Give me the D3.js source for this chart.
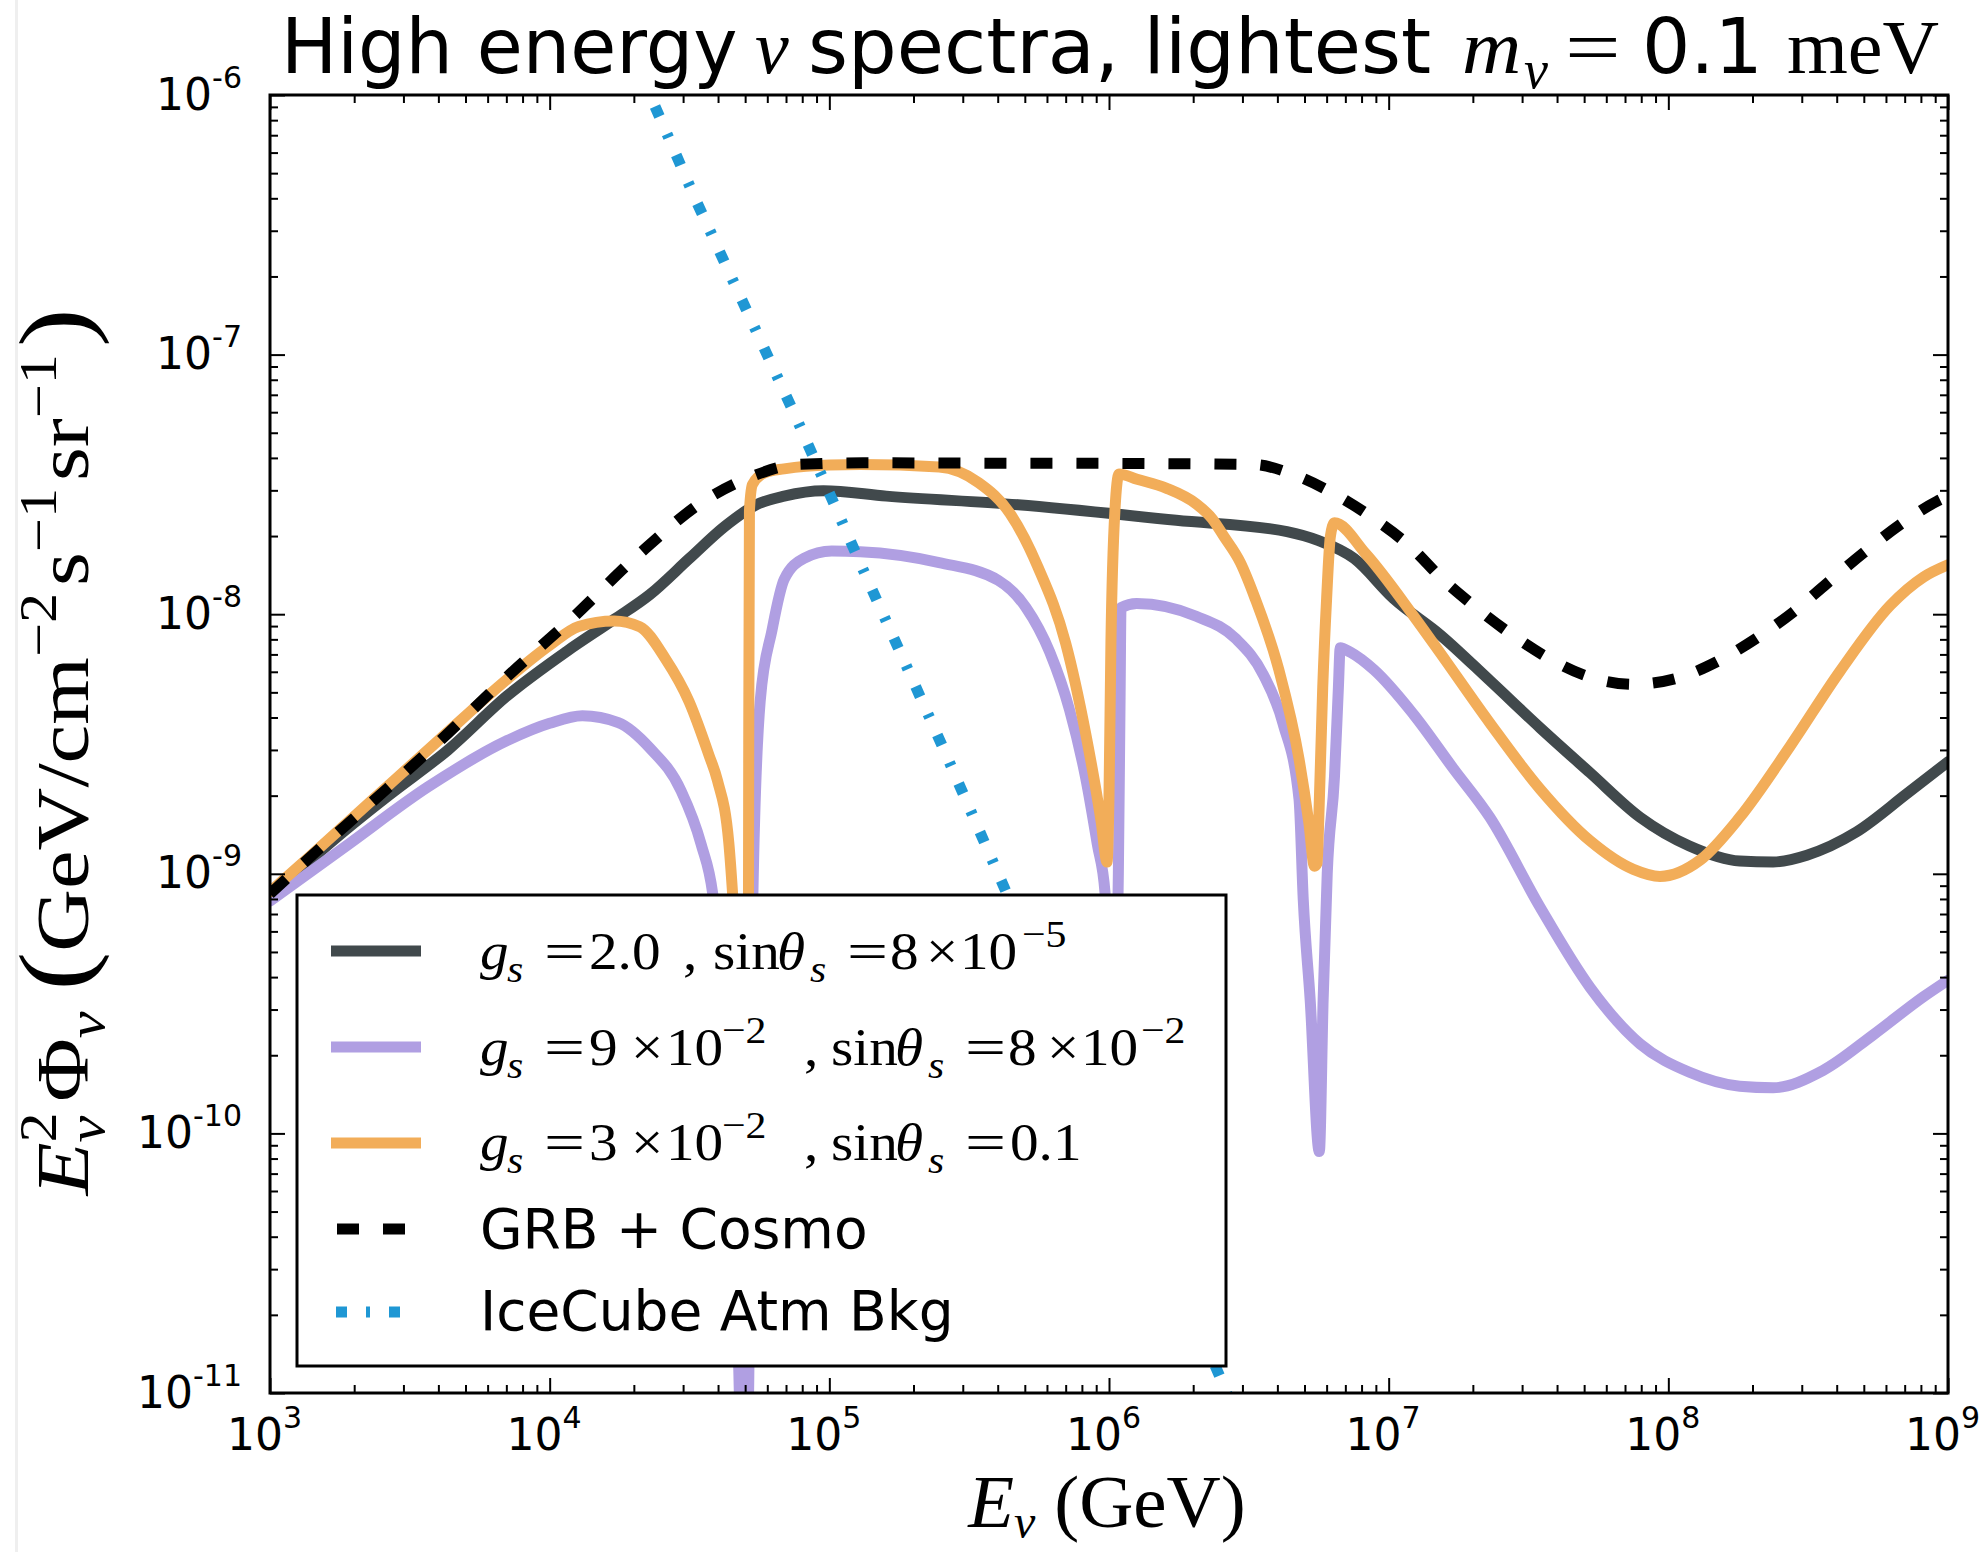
<!DOCTYPE html>
<html><head><meta charset="utf-8">
<script src="https://cdn.jsdelivr.net/npm/d3@7"></script>
<style>body{margin:0;background:#fff;} svg{display:block}</style>
</head><body>
<svg id="chart" width="1988" height="1552"></svg>
<script>
// ---------------- data ----------------
const xTickExps = [3, 4, 5, 6, 7, 8, 9];
const yTickExps = [-11, -10, -9, -8, -7, -6];

const legendLabels = ["g_s=2.0, sinθ_s=8×10^-5", "g_s=9×10^-2, sinθ_s=8×10^-2", "g_s=3×10^-2, sinθ_s=0.1", "GRB + Cosmo", "IceCube Atm Bkg"];

// [E (GeV), E^2 Phi (GeV cm^-2 s^-1 sr^-1)]
const seriesGs2 = [
  [1e3, 7.94e-10], [1.53e3, 1.23e-9], [2.65e3, 2.0e-9], [4.33e3, 3.0e-9], [7.05e3, 4.85e-9],
  [1.15e4, 7.19e-9], [1.70e4, 9.55e-9], [2.28e4, 1.19e-8], [3.16e4, 1.64e-8], [4.23e4, 2.18e-8],
  [5.48e4, 2.64e-8], [6.89e4, 2.85e-8], [9.53e4, 2.99e-8], [1.60e5, 2.85e-8], [4.73e5, 2.64e-8],
  [1.74e6, 2.30e-8], [4.33e6, 2.08e-8], [5.62e6, 1.92e-8], [7.52e6, 1.64e-8], [1.04e7, 1.15e-8],
  [1.53e7, 8.32e-9], [2.30e7, 5.55e-9], [3.48e7, 3.65e-9], [5.25e7, 2.45e-9], [7.93e7, 1.65e-9],
  [1.19e8, 1.28e-9], [1.80e8, 1.12e-9], [2.37e8, 1.11e-9], [3.13e8, 1.18e-9], [4.71e8, 1.45e-9],
  [7.11e8, 2.03e-9], [1e9, 2.70e-9]
];
const seriesGs9 = [
  [1e3, 7.85e-10], [1.91e3, 1.30e-9], [3.67e3, 2.16e-9], [7.05e3, 3.26e-9], [1e4, 3.80e-9],
  [1.31e4, 4.06e-9], [1.76e4, 3.82e-9], [2.28e4, 3.05e-9], [2.95e4, 2.09e-9], [3.48e4, 1.30e-9],
  [3.83e4, 8.36e-10], [4.17e4, 3.16e-10], [4.57e4, 6.31e-11], [4.90e4, 5e-12], [5.07e4, 5e-12],
  [5.25e4, 1e-10], [5.33e4, 8.36e-10], [5.66e4, 4.63e-9], [6.24e4, 8.69e-9], [6.89e4, 1.36e-8],
  [8.11e4, 1.64e-8], [1.02e5, 1.75e-8], [1.29e5, 1.74e-8], [2.47e5, 1.58e-8], [4.02e5, 1.35e-8],
  [5.05e5, 1.06e-8], [6.14e5, 7.14e-9], [7.23e5, 4.27e-9], [8.24e5, 2.36e-9], [9.08e5, 1.30e-9],
  [9.68e5, 8.43e-10], [1.00e6, 1.6e-10], [1.03e6, 1.6e-10], [1.08e6, 1.0e-9], [1.096e6, 5.0e-9],
  [1.104e6, 1.06e-8], [1.256e6, 1.10e-8], [2.05e6, 9.82e-9], [2.84e6, 8.05e-9], [3.56e6, 5.86e-9],
  [4.19e6, 3.79e-9], [4.78e6, 1.94e-9], [4.95e6, 7.94e-10], [5.24e6, 3.27e-10], [5.65e6, 8.51e-11],
  [5.83e6, 3.27e-10], [6.03e6, 1.0e-9], [6.40e6, 2.36e-9], [6.61e6, 5.21e-9], [6.71e6, 7.43e-9],
  [7.29e6, 7.14e-9], [8.87e6, 6.10e-9], [1.23e7, 4.10e-9], [1.70e7, 2.55e-9], [2.30e7, 1.65e-9],
  [3.48e7, 7.43e-10], [5.25e7, 3.65e-10], [7.93e7, 2.21e-10], [1.19e8, 1.72e-10], [1.80e8, 1.52e-10],
  [2.37e8, 1.50e-10], [3.58e8, 1.75e-10], [5.41e8, 2.40e-10], [8.17e8, 3.36e-10], [1e9, 3.89e-10]
];
const seriesGs3 = [
  [1e3, 8.51e-10], [1.38e3, 1.16e-9], [2.33e3, 1.93e-9], [4.06e3, 3.31e-9], [7.05e3, 5.62e-9],
  [1e4, 7.59e-9], [1.27e4, 8.97e-9], [1.70e4, 9.42e-9], [2.10e4, 8.95e-9], [2.59e4, 6.75e-9],
  [3.15e4, 4.61e-9], [3.71e4, 2.87e-9], [3.98e4, 2.29e-9], [4.37e4, 1.32e-9], [4.51e4, 8.36e-10],
  [4.79e4, 2.5e-10], [5.01e4, 8e-11], [5.13e4, 3.16e-10], [5.15e4, 3.16e-9], [5.18e4, 2.51e-8],
  [5.31e4, 3.16e-8], [5.89e4, 3.51e-8], [6.89e4, 3.63e-8], [1e5, 3.76e-8], [1.29e5, 3.77e-8],
  [2.47e5, 3.69e-8], [3.42e5, 3.21e-8], [4.43e5, 2.44e-8], [5.57e5, 1.52e-8], [7.00e5, 7.73e-9],
  [8.24e5, 3.50e-9], [9.38e5, 1.58e-9], [9.84e5, 1.11e-9], [1.000e6, 2.0e-9], [1.016e6, 7.76e-9],
  [1.050e6, 2.51e-8], [1.086e6, 3.47e-8], [1.26e6, 3.31e-8], [1.60e6, 3.06e-8], [2.05e6, 2.66e-8],
  [2.34e6, 2.33e-8], [2.57e6, 2.00e-8], [2.95e6, 1.58e-8], [3.33e6, 1.15e-8], [4.05e6, 6.10e-9],
  [4.78e6, 2.77e-9], [5.18e6, 1.58e-9], [5.43e6, 1.07e-9], [5.55e6, 1.10e-9], [5.62e6, 1.58e-9],
  [5.81e6, 5.21e-9], [6.00e6, 1.15e-8], [6.19e6, 2.0e-8], [6.40e6, 2.25e-8], [8.28e6, 1.71e-8],
  [1.23e7, 9.82e-9], [1.53e7, 7.08e-9], [2.30e7, 3.81e-9], [3.48e7, 2.12e-9], [5.25e7, 1.34e-9],
  [7.50e7, 1.04e-9], [9.33e7, 9.77e-10], [1.30e8, 1.13e-9], [1.80e8, 1.65e-9], [2.72e8, 3.09e-9],
  [4.11e8, 6.03e-9], [6.21e8, 1.08e-8], [8.17e8, 1.39e-8], [1e9, 1.55e-8]
];
const seriesGrb = [
  [1e3, 8.36e-10], [1.38e3, 1.15e-9], [2.33e3, 1.90e-9], [4.06e3, 3.26e-9], [7.05e3, 5.75e-9],
  [1.23e4, 9.86e-9], [2.07e4, 1.69e-8], [3.71e4, 2.81e-8], [5.31e4, 3.40e-8], [7.59e4, 3.77e-8],
  [1.32e5, 3.83e-8], [3.16e5, 3.82e-8], [1e6, 3.81e-8], [3.31e6, 3.77e-8], [4.47e6, 3.48e-8],
  [6.17e6, 2.97e-8], [8.57e6, 2.39e-8], [1.23e7, 1.77e-8], [1.53e7, 1.39e-8], [2.01e7, 1.08e-8],
  [2.72e7, 8.43e-9], [3.67e7, 6.84e-9], [5.11e7, 5.78e-9], [7.50e7, 5.37e-9], [1.07e8, 5.66e-9],
  [1.49e8, 6.56e-9], [2.07e8, 8.09e-9], [2.80e8, 1.02e-8], [3.68e8, 1.31e-8], [4.98e8, 1.72e-8],
  [6.73e8, 2.21e-8], [9.12e8, 2.72e-8], [1e9, 2.85e-8]
];
const seriesIceCube = [
  [2.0e4, 1.39e-6], [3.33e4, 3.94e-7], [7.59e4, 5.75e-8], [1.28e5, 1.60e-8], [2.54e5, 3.09e-9],
  [5.62e5, 4.37e-10], [1.26e6, 6.31e-11], [2.57e6, 1.07e-11], [3.0e6, 7.0e-12]
];

// ---------------- layout ----------------
const SANS = "'DejaVu Sans', Verdana, sans-serif";
const SERIF = "'Liberation Serif', 'Times New Roman', serif";
const C_GRAY = "#41494c", C_PURPLE = "#b09fe2", C_ORANGE = "#f2ad59", C_BLUE = "#1f97d4";
const L = 270, R = 1948, T = 95, B = 1393;

const svg = d3.select('#chart');
svg.append('rect').attr('width', 1988).attr('height', 1552).attr('fill', '#fff');
svg.append('rect').attr('x', 15).attr('y', 0).attr('width', 3).attr('height', 1552).attr('fill', '#efefef');

const x = d3.scaleLog().domain([1e3, 1e9]).range([L, R]);
const y = d3.scaleLog().domain([1e-11, 1e-6]).range([B, T]);

svg.append('clipPath').attr('id', 'plotclip').append('rect')
  .attr('x', L).attr('y', T).attr('width', R - L).attr('height', B - T);

const line = d3.line().x(d => x(d[0])).y(d => y(d[1])).curve(d3.curveMonotoneX);
const lineLin = d3.line().x(d => x(d[0])).y(d => y(d[1]));

const gPlot = svg.append('g').attr('clip-path', 'url(#plotclip)');
function drawSolid(data, color) {
  gPlot.append('path').attr('d', line(data)).attr('fill', 'none').attr('stroke', color)
    .attr('stroke-width', 11).attr('stroke-linejoin', 'round').attr('stroke-linecap', 'round');
}
drawSolid(seriesGs2, C_GRAY);
drawSolid(seriesGs9, C_PURPLE);
drawSolid(seriesGs3, C_ORANGE);
gPlot.append('path').attr('d', line(seriesGrb)).attr('fill', 'none').attr('stroke', '#000')
  .attr('stroke-width', 11).attr('stroke-dasharray', '22,24').attr('stroke-linecap', 'butt');
gPlot.append('path').attr('d', lineLin(seriesIceCube)).attr('fill', 'none').attr('stroke', C_BLUE)
  .attr('stroke-width', 11).attr('stroke-dasharray', '11,19,4,19').attr('stroke-linecap', 'butt');

// ---------------- axes ----------------
const majorX = xTickExps.map(e => Math.pow(10, e));
const majorY = yTickExps.map(e => Math.pow(10, e));
function minors(lo, hi) { const t = []; for (let e = lo; e < hi; e++) for (let k = 2; k < 10; k++) t.push(k * Math.pow(10, e)); return t; }
const minorX = minors(3, 9), minorY = minors(-11, -6);

function addAxis(fn, scale, values, size, tr, withLabels) {
  const a = fn(scale).tickValues(values).tickSizeInner(size).tickSizeOuter(0)
    .tickFormat(withLabels ? (() => '10') : (() => ''));
  const g = svg.append('g').attr('transform', tr).call(a);
  g.select('.domain').remove();
  g.attr('font-family', SANS).attr('font-size', 44);
  g.selectAll('.tick line').attr('stroke', '#000').attr('stroke-width', 2);
  return g;
}
addAxis(d3.axisBottom, x, minorX, -8, `translate(0,${B})`, false);
addAxis(d3.axisTop, x, minorX, -8, `translate(0,${T})`, false);
addAxis(d3.axisLeft, y, minorY, -8, `translate(${L},0)`, false);
addAxis(d3.axisRight, y, minorY, -8, `translate(${R},0)`, false);
const gxb = addAxis(d3.axisBottom, x, majorX, -15, `translate(0,${B})`, true);
addAxis(d3.axisTop, x, majorX, -15, `translate(0,${T})`, false);
const gyl = addAxis(d3.axisLeft, y, majorY, -15, `translate(${L},0)`, true);
addAxis(d3.axisRight, y, majorY, -15, `translate(${R},0)`, false);

function supLabels(g) {
  g.selectAll('.tick text').each(function (d) {
    const t = d3.select(this);
    const e = Math.round(Math.log10(d));
    t.text(null).attr('fill', '#000');
    t.append('tspan').text('10');
    t.append('tspan').attr('dy', -22).attr('font-size', 30).text(e < 0 ? '-' + (-e) : String(e));
  });
}
supLabels(gxb);
gxb.selectAll('.tick text').attr('y', 57).attr('dy', null).attr('x', -6);
supLabels(gyl);
gyl.selectAll('.tick text').attr('x', -28).attr('dy', 14);

svg.append('rect').attr('x', L).attr('y', T).attr('width', R - L).attr('height', B - T)
  .attr('fill', 'none').attr('stroke', '#000').attr('stroke-width', 3);

// ---------------- segment text helper ----------------
function segs(parent, baseline, list, base) {
  list.forEach(s => {
    const [txt, sx, kind, ital, font, hscale] = s;
    const isSmall = kind === 'sub' || kind === 'sup';
    const yy = baseline + (kind === 'sub' ? base.sub : kind === 'sup' ? -base.sup : 0);
    const hs = hscale || base.hs || 1;
    const t = parent.append('text')
      .attr('transform', `translate(${sx},${yy})` + (hs !== 1 ? ` scale(${hs},1)` : ''))
      .attr('font-family', font || SERIF)
      .attr('font-size', isSmall ? base.small : base.size)
      .attr('fill', '#000').text(txt);
    if (ital) t.attr('font-style', 'italic');
  });
}

// ---------------- title ----------------
segs(svg, 73, [
  ['High energy', 281, '', 0, SANS, 0.985],
  ['ν', 755, '', 1],
  ['spectra, lightest', 808, '', 0, SANS, 1.01],
  ['m', 1462, '', 1, SERIF, 1.08],
  ['ν', 1524, 'sub', 1],
  ['=', 1565, '', 0, SERIF, 1.3],
  ['0.1', 1642, '', 0, SANS],
  ['meV', 1787, '', 0, SERIF, 1.03]
], { size: 76, small: 54, sub: 15, sup: 28 });

// ---------------- x label ----------------
const xl = svg.append('text').attr('x', 1107).attr('y', 1527).attr('text-anchor', 'middle')
  .attr('font-family', SERIF).attr('font-size', 75).attr('fill', '#000');
xl.append('tspan').attr('font-style', 'italic').text('E');
xl.append('tspan').attr('font-style', 'italic').attr('font-size', 48).attr('dy', 11).text('ν');
xl.append('tspan').attr('dy', -11).text(' (GeV)');

// ---------------- y label ----------------
const yl = svg.append('text').attr('transform', 'translate(88,752) rotate(-90) scale(1.16,1)')
  .attr('text-anchor', 'middle').attr('font-family', SERIF).attr('font-size', 75).attr('fill', '#000');
yl.append('tspan').attr('font-style', 'italic').text('E');
yl.append('tspan').attr('font-size', 52).attr('dy', -32).text('2');
yl.append('tspan').attr('font-size', 52).attr('font-style', 'italic').attr('dx', -26).attr('dy', 48).text('ν');
yl.append('tspan').attr('dy', -16).attr('dx', 12).text('Φ');
yl.append('tspan').attr('font-size', 52).attr('font-style', 'italic').attr('dy', 16).text('ν');
yl.append('tspan').attr('font-size', 100).attr('dy', -16).attr('dx', 18).text('(');
yl.append('tspan').text('GeV/cm');
yl.append('tspan').attr('font-size', 52).attr('dy', -32).text('−2');
yl.append('tspan').attr('dy', 32).attr('dx', 6).text('s');
yl.append('tspan').attr('font-size', 52).attr('dy', -32).text('−1');
yl.append('tspan').attr('dy', 32).attr('dx', 6).text('sr');
yl.append('tspan').attr('font-size', 52).attr('dy', -32).text('−1');
yl.append('tspan').attr('font-size', 100).attr('dy', 32).attr('dx', 6).text(')');

// ---------------- legend ----------------
const lg = svg.append('g');
lg.append('rect').attr('x', 297).attr('y', 895).attr('width', 929).attr('height', 471)
  .attr('fill', '#fff').attr('stroke', '#000').attr('stroke-width', 3);
const rowsY = [951, 1047, 1143, 1229, 1312];
const handles = [
  { c: C_GRAY, x1: 331, x2: 421 },
  { c: C_PURPLE, x1: 331, x2: 421 },
  { c: C_ORANGE, x1: 331, x2: 421 },
  { c: '#000', x1: 337, x2: 421, dash: '22,24' },
  { c: C_BLUE, x1: 336, x2: 418, dash: '11,19,4,19' }
];
handles.forEach((h, i) => {
  const l = lg.append('line').attr('x1', h.x1).attr('x2', h.x2).attr('y1', rowsY[i]).attr('y2', rowsY[i])
    .attr('stroke', h.c).attr('stroke-width', 11).attr('stroke-linecap', 'butt');
  if (h.dash) l.attr('stroke-dasharray', h.dash);
});
const mathBase = { size: 52, small: 38, sub: 13, sup: 22, hs: 1.1 };
segs(lg, 969, [
  ['g', 480, '', 1], ['s', 507, 'sub', 1], ['=', 544, '', 0, SERIF, 1.4], ['2.0', 589], [',', 683],
  ['sin', 713], ['θ', 777, '', 1], ['s', 810, 'sub', 1], ['=', 847, '', 0, SERIF, 1.4], ['8', 890],
  ['×', 926], ['10', 960], ['−5', 1022, 'sup']
], mathBase);
segs(lg, 1065, [
  ['g', 480, '', 1], ['s', 507, 'sub', 1], ['=', 544, '', 0, SERIF, 1.4], ['9', 589], ['×', 631],
  ['10', 666], ['−2', 722, 'sup'], [',', 804], ['sin', 831], ['θ', 895, '', 1], ['s', 928, 'sub', 1],
  ['=', 965, '', 0, SERIF, 1.4], ['8', 1008], ['×', 1047], ['10', 1081], ['−2', 1141, 'sup']
], mathBase);
segs(lg, 1160, [
  ['g', 480, '', 1], ['s', 507, 'sub', 1], ['=', 544, '', 0, SERIF, 1.4], ['3', 589], ['×', 631],
  ['10', 666], ['−2', 722, 'sup'], [',', 804], ['sin', 831], ['θ', 895, '', 1], ['s', 928, 'sub', 1],
  ['=', 965, '', 0, SERIF, 1.4], ['0.1', 1010]
], mathBase);
lg.append('text').attr('x', 480).attr('y', 1248).attr('font-family', SANS).attr('font-size', 55)
  .attr('fill', '#000').text(legendLabels[3]);
lg.append('text').attr('x', 480).attr('y', 1330).attr('font-family', SANS).attr('font-size', 55)
  .attr('fill', '#000').text(legendLabels[4]);
</script>
</body></html>
